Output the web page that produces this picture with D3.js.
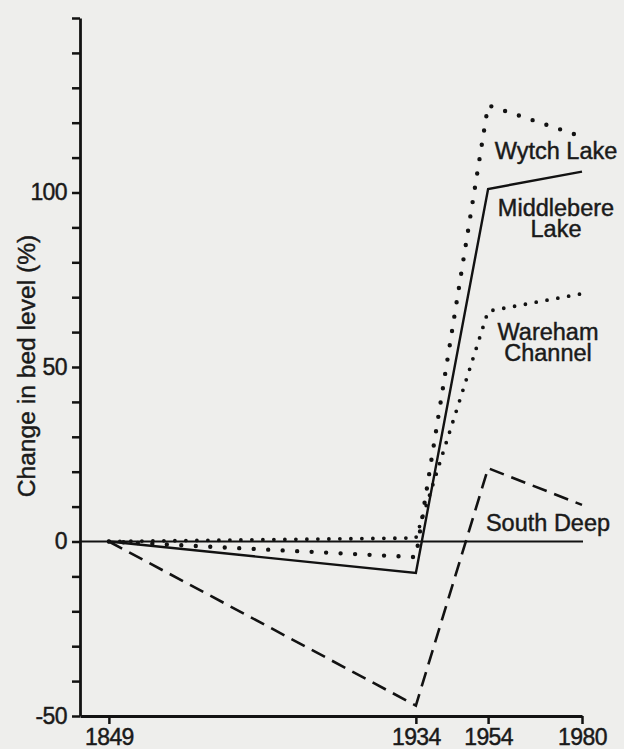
<!DOCTYPE html>
<html><head><meta charset="utf-8">
<script src="https://cdn.jsdelivr.net/npm/d3@7"></script>
<style>
html,body{margin:0;padding:0;background:#eeeeec;}
svg{display:block;}
text{font-family:"Liberation Sans",Arial,Helvetica,sans-serif;fill:#1a1a1a;stroke:#1a1a1a;stroke-width:0.45px;}
</style></head><body>
<svg id="chart" width="624" height="749"></svg>
<script>
// ---- data ----
const years = [1849, 1934, 1954, 1980];
const wytchLake = [0, -4.5, 125, 116];
const middlebereLake = [0, -9, 101, 106];
const warehamChannel = [0, 1, 66, 71];
const southDeep = [0, -47, 21, 10.5];
const yLabelTicks = [-50, 0, 50, 100];
const yAllTicks = [-50, -40, -30, -20, -10, 0, 10, 20, 30, 40, 50, 60, 70, 80, 90, 100, 110, 120, 130, 140, 150];
const seriesNames = ["Wytch Lake", "Middlebere Lake", "Wareham Channel", "South Deep"];
const yTitle = "Change in bed level (%)";

// ---- layout ----
const svg = d3.select("#chart");
const x = d3.scaleLinear().domain([1841, 1980]).range([80, 582]);
const y = d3.scaleLinear().domain([-50, 150]).range([716, 18]);
const ink = "#121212";

const series = [
  {name: seriesNames[0], values: wytchLake, dash: "0,14.5", width: 4.4, lines: ["Wytch Lake"], lx: 556, ly: 159},
  {name: seriesNames[1], values: middlebereLake, dash: null, width: 2.4, lines: ["Middlebere", "Lake"], lx: 556, ly: 216},
  {name: seriesNames[2], values: warehamChannel, dash: "0,11", width: 3.8, lines: ["Wareham", "Channel"], lx: 548, ly: 340},
  {name: seriesNames[3], values: southDeep, dash: "15,8", width: 2.6, lines: ["South Deep"], lx: 548, ly: 531}
];

// zero reference line
svg.append("line")
  .attr("x1", x(1841)).attr("x2", x(1980) + 1)
  .attr("y1", y(0)).attr("y2", y(0))
  .attr("stroke", ink).attr("stroke-width", 2);

const line = d3.line().x((d, i) => x(years[i])).y(d => y(d));

svg.selectAll("path.series").data(series).enter().append("path")
  .attr("class", "series")
  .attr("d", d => line(d.values))
  .attr("fill", "none")
  .attr("stroke", ink)
  .attr("stroke-width", d => d.width)
  .attr("stroke-linecap", d => d.dash && d.dash.startsWith("0") ? "round" : "butt")
  .attr("stroke-linejoin", "miter")
  .attr("stroke-dasharray", d => d.dash);

// series labels
series.forEach(s => {
  s.lines.forEach((ln, i) => {
    svg.append("text")
      .attr("x", s.lx).attr("y", s.ly + i * 21)
      .attr("text-anchor", "middle")
      .attr("font-size", 23.5)
      .text(ln);
  });
});

// y axis
const yAxis = d3.axisLeft(y)
  .tickValues(yAllTicks)
  .tickSize(8)
  .tickSizeOuter(0)
  .tickPadding(5)
  .tickFormat(d => yLabelTicks.includes(d) ? String(d) : "");
const gy = svg.append("g").attr("transform", `translate(${x(1841)},0)`).call(yAxis);
gy.select(".domain").attr("stroke", ink).attr("stroke-width", 2.8);
gy.selectAll(".tick line").attr("stroke", ink).attr("stroke-width", 2.5);
gy.selectAll(".tick text").attr("font-size", 23).attr("fill", "#1a1a1a")
  .attr("font-family", "'Liberation Sans',Arial,sans-serif").attr("letter-spacing", -0.6);

// x axis
const xAxis = d3.axisBottom(x)
  .tickValues(years)
  .tickSize(8)
  .tickSizeOuter(0)
  .tickPadding(5)
  .tickFormat(d3.format("d"));
const gx = svg.append("g").attr("transform", `translate(0,${y(-50)})`).call(xAxis);
gx.select(".domain").attr("stroke", ink).attr("stroke-width", 2.8);
gx.selectAll(".tick line").attr("stroke", ink).attr("stroke-width", 2.5);
gx.selectAll(".tick text").attr("font-size", 23).attr("fill", "#1a1a1a")
  .attr("font-family", "'Liberation Sans',Arial,sans-serif").attr("letter-spacing", -0.6);

// y title
svg.append("text")
  .attr("transform", `translate(35,366) rotate(-90)`)
  .attr("text-anchor", "middle")
  .attr("font-size", 24.6)
  .text(yTitle);
</script>
</body></html>
